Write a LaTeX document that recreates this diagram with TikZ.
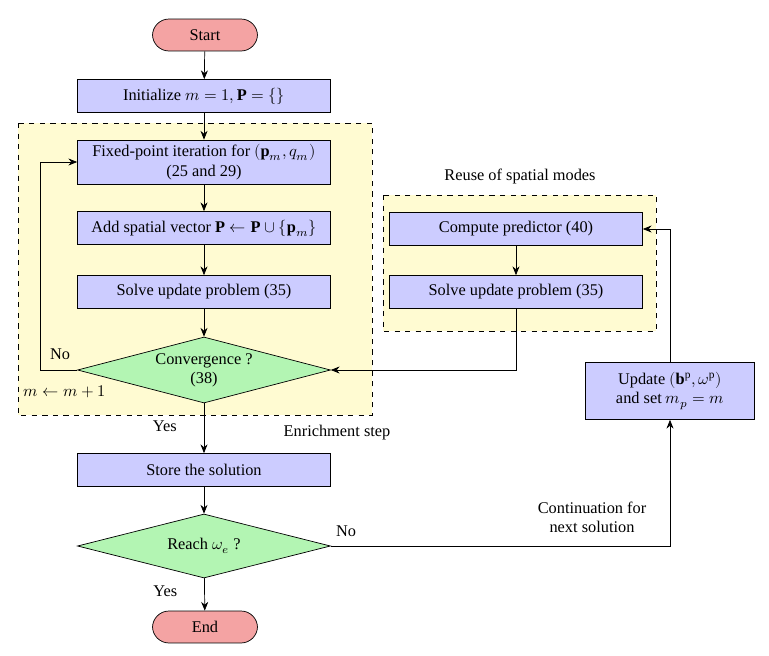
\documentclass[tikz,border=0pt]{standalone}
\usepackage{fontspec}
\setmainfont{Liberation Serif}
\usepackage{unicode-math}
\usetikzlibrary{shapes.geometric,arrows.meta}
\definecolor{boxblue}{HTML}{CCCCFF}
\definecolor{termred}{HTML}{F4A3A3}
\definecolor{decgreen}{HTML}{B3F5B3}
\definecolor{zoneyel}{HTML}{FFFBD2}
\tikzset{
  proc/.style={draw, fill=boxblue, minimum width=5.06cm, minimum height=0.66cm, align=center, inner sep=1pt},
  term/.style={draw, fill=termred, rounded corners=0.33cm, minimum width=2.1cm, minimum height=0.64cm},
  dec/.style={draw, fill=decgreen, diamond, aspect=3.8, minimum width=5.06cm, minimum height=1.32cm, inner sep=0pt, align=center},
  zone/.style={draw, dashed, fill=zoneyel},
  flow/.style={-{Stealth[length=5pt,width=4pt]}}
}
\begin{document}
\begin{tikzpicture}[x=0.02cm,y=-0.02cm,font=\fontsize{9.3}{11}\selectfont]
\useasboundingbox (0,0) rectangle (769,656);
% shaded regions
\draw[zone] (18,123) rectangle (372,415);
\draw[zone] (383,195) rectangle (656,331);
\node at (520,176) {Reuse of spatial modes};
% main column
\node[term] (start) at (205,35) {Start};
\node[proc] (init) at (204,96) {Initialize $m=1,\mathbf{P}=\{\}$};
\node[proc, minimum height=0.88cm] (fix) at (204,162) {Fixed-point iteration for $(\mathbf{p}_m,q_m)$\\(25 and 29)};
\node[proc] (add) at (204,228) {Add spatial vector $\mathbf{P}\leftarrow\mathbf{P}\cup\{\mathbf{p}_m\}$};
\node[proc] (solve) at (204,292) {Solve update problem (35)};
\node[dec] (conv) at (204,370) {Convergence ?\\(38)};
\node[proc] (store) at (204,470) {Store the solution};
\node[dec, minimum height=1.28cm] (reach) at (204,546) {Reach $\omega_e$ ?};
\node[term] (end) at (205,627) {End};
% reuse column
\node[proc] (pred) at (516,229) {Compute predictor (40)};
\node[proc] (solve2) at (516,292) {Solve update problem (35)};
\node[proc, minimum width=3.38cm, minimum height=1.14cm] (upd) at (670,391) {Update $(\mathbf{b}^{\mathrm{p}},\omega^{\mathrm{p}})$\\and set $m_p=m$};
% connectors
\draw[flow] (start) -- (init);
\draw[flow] (init) -- (fix);
\draw[flow] (fix) -- (add);
\draw[flow] (add) -- (solve);
\draw[flow] (solve) -- (conv);
\draw[flow] (conv) -- node[pos=0.45, left=12pt] {Yes} (store);
\draw[flow] (store) -- (reach);
\draw[flow] (reach) -- node[pos=0.4, left=12pt] {Yes} (end);
\draw[flow] (conv.west) -| (40,162) -- (fix.west);
\draw[flow] (pred) -- (solve2);
\draw[flow] (solve2.south) |- (conv.east);
\draw[flow] (upd.north) |- (pred.east);
\draw[flow] (reach.east) -| (upd.south);
% labels
\node at (60,354) {No};
\node at (65,392) {$m\leftarrow m+1$};
\node at (337,433) {Enrichment step};
\node at (346,531) {No};
\node[align=center] at (592,517) {Continuation for\\next solution};
\end{tikzpicture}
\end{document}
